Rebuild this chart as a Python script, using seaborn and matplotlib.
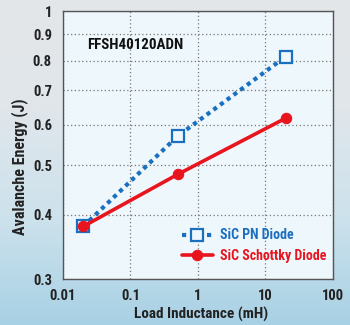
import numpy as np
import pandas as pd
import matplotlib
matplotlib.use("Agg")
import matplotlib.pyplot as plt
import seaborn as sns
from matplotlib.ticker import FixedLocator, FixedFormatter, NullLocator
from matplotlib.colors import LinearSegmentedColormap

# ---- data ----
inductance_mh = [0.02, 0.5, 20]
pn_energy = [0.38, 0.57, 0.815]
schottky_energy = [0.38, 0.48, 0.618]
series_names = ["SiC PN Diode", "SiC Schottky Diode"]
y_ticks = [0.3, 0.4, 0.5, 0.6, 0.7, 0.8, 0.9, 1.0]
y_tick_labels = ["0.3", "0.4", "0.5", "0.6", "0.7", "0.8", "0.9", "1"]
x_ticks = [0.01, 0.1, 1, 10, 100]
x_tick_labels = ["0.01", "0.1", "1", "10", "100"]
title_text = "FFSH40120ADN"

sns.set_theme(style="white")
FONT = ["Roboto Condensed", "Liberation Sans Narrow", "Roboto", "DejaVu Sans"]
plt.rcParams["font.family"] = FONT

BLUE = "#1a6fbf"
RED = "#e8141e"

fig = plt.figure(figsize=(3.5, 3.25), dpi=100)
bg = fig.add_axes([0, 0, 1, 1], zorder=-10)
grad = np.linspace(0, 1, 256).reshape(-1, 1)
cmap = LinearSegmentedColormap.from_list("bg", ["#e4e6e9", "#e0e6eb", "#cde2ec", "#a8d1e5"])
bg.imshow(grad, aspect="auto", cmap=cmap, extent=[0, 1, 0, 1], origin="upper")
bg.axis("off")

ax = fig.add_axes([0.18, 0.1415, 0.771, 0.8245])
ax.set_facecolor("#eef7fc")

df = pd.DataFrame({
    "L": inductance_mh * 2,
    "E": pn_energy + schottky_energy,
    "s": [series_names[0]] * 3 + [series_names[1]] * 3,
})

sns.lineplot(data=df[df.s == series_names[0]], x="L", y="E", ax=ax, color=BLUE,
             linestyle=(0, (1, 1)), linewidth=3.0, marker="s", markersize=8,
             markerfacecolor="#eef7fc", markeredgecolor=BLUE, markeredgewidth=1.6,
             label=series_names[0], zorder=3)
sns.lineplot(data=df[df.s == series_names[1]], x="L", y="E", ax=ax, color=RED,
             linestyle="-", linewidth=2.6, marker="o", markersize=7.5,
             markerfacecolor=RED, markeredgecolor=RED, label=series_names[1], zorder=4)

ax.set_xscale("log")
ax.set_yscale("log")
ax.set_xlim(0.01, 100)
ax.set_ylim(0.3, 1.0)
ax.xaxis.set_major_locator(FixedLocator(x_ticks))
ax.xaxis.set_major_formatter(FixedFormatter(x_tick_labels))
ax.xaxis.set_minor_locator(NullLocator())
ax.yaxis.set_major_locator(FixedLocator(y_ticks))
ax.yaxis.set_major_formatter(FixedFormatter(y_tick_labels))
ax.yaxis.set_minor_locator(NullLocator())

ax.grid(True, which="major", linestyle=(0, (1, 2)), color="#777777", linewidth=0.9)
for sp in ax.spines.values():
    sp.set_color("#555555")
    sp.set_linewidth(1.0)
ax.tick_params(axis="y", length=0, pad=8, labelsize=10.5, colors="#222222")
ax.tick_params(axis="x", length=0, pad=7, labelsize=10.5, colors="#222222")
for lab in ax.get_xticklabels() + ax.get_yticklabels():
    lab.set_fontweight("bold")

ax.set_xlabel("Load Inductance (mH)", fontsize=11, fontweight="bold", color="#222222")
ax.set_ylabel("Avalanche Energy (J)", fontsize=11.5, fontweight="bold", color="#222222")
ax.xaxis.set_label_coords(0.51, -0.105)
ax.yaxis.set_label_coords(-0.13, 0.42)

ax.text(0.088, 0.873, title_text, transform=ax.transAxes, fontsize=10.8,
        fontweight="bold", color="#111111", ha="left", va="center")

leg = ax.legend(loc="lower right", frameon=False, handlelength=2.2,
                handletextpad=0.5, labelspacing=0.45,
                borderaxespad=0.0, bbox_to_anchor=(0.995, 0.04), labelcolor=[BLUE, RED],
                prop={"weight": "bold", "size": 10, "family": FONT})

fig.savefig("out.png", dpi=100)
